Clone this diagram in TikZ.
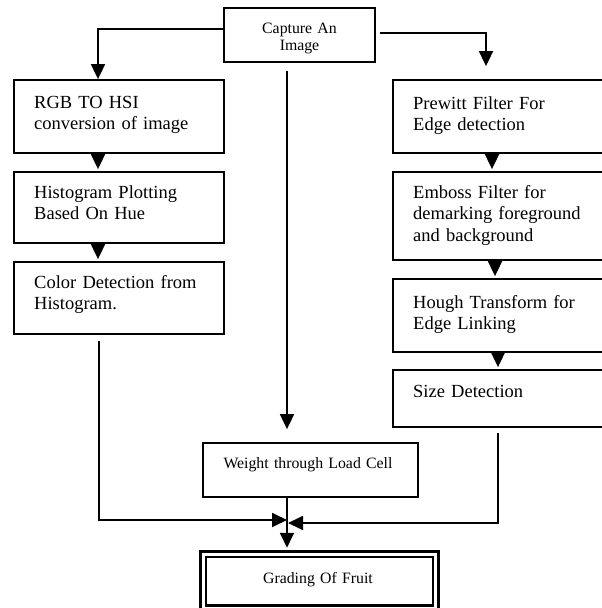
\documentclass[tikz,border=0pt]{standalone}
\usepackage{fontspec}
\setmainfont{Liberation Serif}
\usetikzlibrary{arrows.meta}
\tikzset{
  frame/.style={draw=black, line width=1.8pt, inner sep=0pt, fill=white},
  boxtext/.style={anchor=base west, inner sep=0pt, align=left,
     font=\fontsize{18.5}{21.5}\selectfont},
  smalltext/.style={anchor=base, inner sep=0pt, align=center,
     font=\fontsize{15.8}{17}\selectfont},
  conn/.style={draw=black, line width=1.8pt},
  arr/.style={conn, -{Triangle[length=15pt, width=14pt]}},
}
\begin{document}
\begin{tikzpicture}[x=1pt, y=-1pt]
\useasboundingbox (0,0) rectangle (602,608);
\clip (0,0) rectangle (602,608);
\fill[white] (0,0) rectangle (602,608);

% boxes
\node[frame, minimum width=151pt, minimum height=54pt] (cap) at (299.5,35) {};
\node[smalltext, text width=140pt] (capt) at (299.5,33) {Capture An\\Image};

\node[frame, minimum width=210pt, minimum height=73pt] (rgb) at (119,116.5) {};
\node[boxtext, text width=175pt] (rgbt) at (34,108) {RGB TO HSI\\conversion of image};

\node[frame, minimum width=210pt, minimum height=71pt] (hist) at (119,207.5) {};
\node[boxtext, text width=175pt] (histt) at (34,198) {Histogram Plotting\\Based On Hue};

\node[frame, minimum width=210pt, minimum height=72pt] (color) at (119,298) {};
\node[boxtext, text width=175pt] (colort) at (34,288) {Color Detection from\\Histogram.};

\node[frame, minimum width=219pt, minimum height=73pt] (prew) at (502.5,116.5) {};
\node[boxtext, text width=185pt] (prewt) at (413,109) {Prewitt Filter For\\Edge detection};

\node[frame, minimum width=219pt, minimum height=88pt] (emb) at (502.5,216) {};
\node[boxtext, text width=185pt] (embt) at (413,198) {Emboss Filter for\\demarking foreground\\and background};

\node[frame, minimum width=219pt, minimum height=73pt] (hough) at (502.5,315.5) {};
\node[boxtext, text width=185pt] (hought) at (413,308) {Hough Transform for\\Edge Linking};

\node[frame, minimum width=219pt, minimum height=57pt] (size) at (502.5,398.5) {};
\node[boxtext, text width=185pt] (sizet) at (413,397) {Size Detection};

\node[frame, minimum width=215pt, minimum height=54pt] (weight) at (310.5,470) {};
\node[smalltext, text width=200pt] (weightt) at (308,468) {Weight through Load Cell};

\node[frame, double=white, double distance=3pt, line width=2.5pt,
      minimum width=232.5pt, minimum height=54pt] (grade) at (319.25,581) {};
\node[smalltext, text width=200pt] (gradet) at (318,583) {Grading Of Fruit};

% reference coordinates
\coordinate (xl) at (98,0);
\coordinate (xl2) at (99,0);
\coordinate (xc) at (287,0);
\coordinate (xr1) at (492,0);
\coordinate (xr2) at (495,0);
\coordinate (xr3) at (498,0);
\coordinate (cl) at (98,29);
\coordinate (crs) at (380,33);
\coordinate (cr) at (486,33);
\coordinate (jl) at (287,520);
\coordinate (jr) at (288,523);

% from capture
\draw[arr] (cap.west |- cl) -- (cl) -- (rgb.north -| cl);
\draw[arr, shorten >=13pt] (crs) -- (cr) -- (prew.north -| cr);
\draw[arr, shorten <=8pt, shorten >=13pt] (cap.south -| xc) -- (weight.north -| xc);

% left chain
\draw[arr, shorten >=2pt] (rgb.south -| xl) -- (hist.north -| xl);
\draw[arr, shorten >=2pt] (hist.south -| xl) -- (color.north -| xl);
\draw[arr, shorten <=6pt] (color.south -| xl2) |- (jl);

% right chain
\draw[arr, shorten >=2pt] (prew.south -| xr1) -- (emb.north -| xr1);
\draw[arr, shorten >=2pt] (emb.south -| xr2) -- (hough.north -| xr2);
\draw[arr, shorten >=2pt] (hough.south -| xr3) -- (size.north -| xr3);
\draw[arr, shorten <=5pt] (size.south -| xr3) |- (jr);

% to grading
\draw[arr, shorten >=5pt] (weight.south -| xc) -- (grade.north -| xc);
\end{tikzpicture}
\end{document}
